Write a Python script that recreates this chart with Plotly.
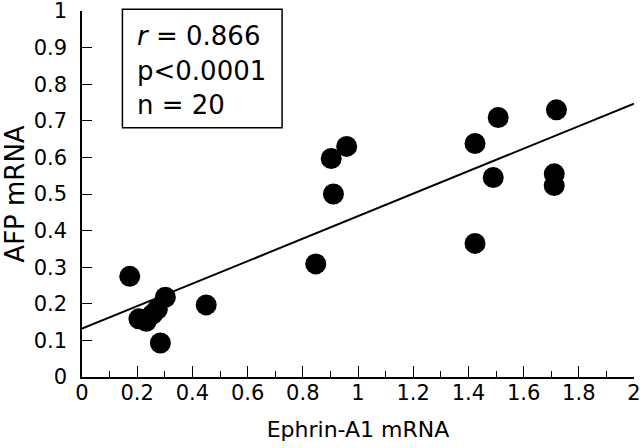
import plotly.graph_objects as go

# Data
ephrin_a1 = [0.173, 0.206, 0.233, 0.255, 0.273, 0.302, 0.284, 0.450,
             0.847, 0.903, 0.911, 0.959,
             1.424, 1.424, 1.490, 1.508, 1.711, 1.711, 1.719]
afp = [0.275, 0.159, 0.152, 0.171, 0.185, 0.218, 0.093, 0.197,
       0.309, 0.597, 0.500, 0.630,
       0.638, 0.365, 0.545, 0.709, 0.555, 0.523, 0.730]

fit_intercept = 0.132
fit_slope = 0.3075
fit_x = [0.0, 2.0]
fit_y = [fit_intercept + fit_slope * v for v in fit_x]

x_tickvals = [0, 0.2, 0.4, 0.6, 0.8, 1, 1.2, 1.4, 1.6, 1.8, 2]
x_ticktext = ["0", "0.2", "0.4", "0.6", "0.8", "1", "1.2", "1.4", "1.6", "1.8", "2"]
y_tickvals = [0, 0.1, 0.2, 0.3, 0.4, 0.5, 0.6, 0.7, 0.8, 0.9, 1]
y_ticktext = ["0", "0.1", "0.2", "0.3", "0.4", "0.5", "0.6", "0.7", "0.8", "0.9", "1"]

stats_lines = ["<i>r</i> = 0.866", "p<0.0001", "n = 20"]

FONT = "DejaVu Sans"

fig = go.Figure()
fig.add_trace(go.Scatter(x=fit_x, y=fit_y, mode="lines",
                         line=dict(color="black", width=2),
                         hoverinfo="skip", showlegend=False))
fig.add_trace(go.Scatter(x=ephrin_a1, y=afp, mode="markers",
                         marker=dict(color="black", size=21, line=dict(width=0)),
                         cliponaxis=False, showlegend=False))

fig.add_shape(type="rect", xref="x", yref="paper",
              x0=0.1465, x1=0.725, y0=0.681, y1=1.005,
              line=dict(color="black", width=1.5), fillcolor="white", layer="below")

for txt, yy in zip(stats_lines, [0.932, 0.836, 0.743]):
    fig.add_annotation(x=0.1936, y=yy, xref="x", yref="y", text=txt,
                       showarrow=False, xanchor="left", yanchor="middle",
                       font=dict(family=FONT, size=26, color="black"))

fig.update_layout(
    width=640, height=448,
    margin=dict(l=82, r=6, t=11, b=71, autoexpand=False),
    paper_bgcolor="white", plot_bgcolor="white",
    font=dict(family=FONT, size=21, color="black"),
    showlegend=False,
)
fig.update_xaxes(range=[0, 2], tickvals=x_tickvals, ticktext=x_ticktext,
                 automargin=False, ticklabeloverflow="allow",
                 showgrid=False, zeroline=False, showline=True,
                 linecolor="black", linewidth=1.5,
                 ticks="inside", ticklen=11, tickwidth=1.2, tickcolor="black",
                 ticklabelstandoff=-4,
                 minor=dict(dtick=0.1, ticks="inside", ticklen=6, tickwidth=1.2,
                            tickcolor="black", showgrid=False),
                 title=dict(text="Ephrin-A1 mRNA", standoff=18,
                            font=dict(family=FONT, size=22)))
fig.update_yaxes(range=[0, 1], tickvals=y_tickvals, ticktext=y_ticktext,
                 automargin=False, ticklabeloverflow="allow",
                 showgrid=False, zeroline=False, showline=True,
                 linecolor="black", linewidth=1.5,
                 ticks="inside", ticklen=10, tickwidth=1.2, tickcolor="black",
                 ticklabelstandoff=9,
                 title=dict(text="AFP mRNA", standoff=9,
                            font=dict(family=FONT, size=26)))

fig.write_html("out.html", config={"displayModeBar": False},
               post_script="document.body.style.margin='0px';")
